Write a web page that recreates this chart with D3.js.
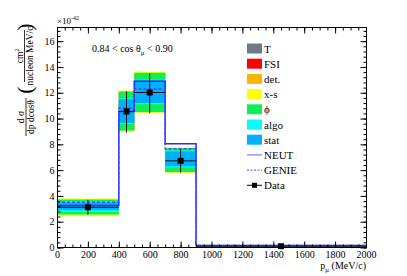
<!DOCTYPE html>
<meta charset="utf-8">
<head>
    <title>Cross section vs p_mu</title>
    <script type="text/javascript" src="https://cdn.jsdelivr.net/npm/d3@7/dist/d3.min.js"></script>
    <style>
        html, body { margin: 0; padding: 0; background: white; }
    </style>
</head>
<body>
<div id="chart"></div>
<script>
    var serif = "'Liberation Serif', 'Times New Roman', Times, serif";

    // bin edges in p_mu (MeV/c)
    var binEdges = [0, 400, 500, 700, 900, 2000];
    // data points (x1e-42)
    var dataX = [200, 450, 600, 800, 1450];
    var dataVal = [3.12, 10.55, 12.02, 6.72, 0.1];
    var dataLo = [2.55, 8.9, 10.4, 5.8, 0.06];
    var dataHi = [3.7, 12.1, 13.5, 7.62, 0.14];
    // MC predictions
    var neut = [3.25, 10.55, 12.9, 8.05, 0.15];
    var genie = [3.5, 10.8, 12.3, 7.65, 0.15];
    // systematic bands, drawn in legend order (later ones on top)
    var bandNames = ["T", "FSI", "det.", "x-s", "\u03d5", "algo", "stat"];
    var bandColors = ["#6e7b87", "#ff0000", "#ffb400", "#ffff00", "#11ee55", "#00ffff", "#00b0ff"];
    var bandLo = [
        [2.6, 9.1, 10.55, 5.9, 0.08],
        [2.6, 9.1, 10.55, 5.9, 0.08],
        [2.6, 9.1, 10.55, 5.9, 0.08],
        [2.43, 8.97, 10.45, 5.8, 0.07],
        [2.56, 9.07, 10.5, 5.85, 0.08],
        [2.76, 9.6, 11.12, 6.22, 0.09],
        [2.9, 9.67, 11.2, 6.3, 0.09]
    ];
    var bandHi = [
        [3.7, 12.05, 13.5, 7.65, 0.13],
        [3.7, 12.05, 13.5, 7.65, 0.13],
        [3.7, 12.05, 13.5, 7.65, 0.13],
        [3.8, 12.17, 13.62, 7.76, 0.14],
        [3.72, 12.1, 13.55, 7.7, 0.13],
        [3.58, 11.58, 13.02, 7.52, 0.12],
        [3.5, 11.5, 12.95, 7.45, 0.12]
    ];
    var yTicks = [0, 2, 4, 6, 8, 10, 12, 14, 16];
    var xTicks = [0, 200, 400, 600, 800, 1000, 1200, 1400, 1600, 1800, 2000];

    var width = 407, height = 276;
    var margin = {top: 27, right: 41, bottom: 29, left: 57};

    var svg = d3.select("#chart").append("svg")
        .attr("width", width)
        .attr("height", height)
        .attr("font-family", serif);

    var x = d3.scaleLinear().domain([0, 2000]).range([margin.left, width - margin.right]);
    var y = d3.scaleLinear().domain([0, 17.1]).range([height - margin.bottom + 0.5, margin.top]);

    var plot = svg.append("g");

    // bands
    bandNames.forEach(function(name, k) {
        plot.append("g").selectAll("rect")
            .data(d3.range(5))
            .enter().append("rect")
            .attr("x", function(i) { return x(binEdges[i]); })
            .attr("width", function(i) { return x(binEdges[i + 1]) - x(binEdges[i]); })
            .attr("y", function(i) { return y(bandHi[k][i]); })
            .attr("height", function(i) { return y(bandLo[k][i]) - y(bandHi[k][i]); })
            .attr("fill", bandColors[k]);
    });

    // step lines for MC
    function stepPoints(vals) {
        var pts = [];
        vals.forEach(function(v, i) {
            pts.push([x(binEdges[i]), y(v)]);
            pts.push([x(binEdges[i + 1]), y(v)]);
        });
        return pts;
    }
    plot.append("path")
        .attr("d", d3.line()(stepPoints(neut)))
        .attr("fill", "none")
        .attr("stroke", "#2b2bf0")
        .attr("stroke-width", 1.5);
    plot.append("path")
        .attr("d", d3.line()(stepPoints(genie)))
        .attr("fill", "none")
        .attr("stroke", "#4a4aff")
        .attr("stroke-width", 1.5)
        .attr("stroke-dasharray", "3,2");

    // data: x error (bin width), y error, marker
    var pts = plot.append("g");
    d3.range(5).forEach(function(i) {
        pts.append("line")
            .attr("x1", x(binEdges[i])).attr("x2", x(binEdges[i + 1]))
            .attr("y1", y(dataVal[i])).attr("y2", y(dataVal[i]))
            .attr("stroke", "#111").attr("stroke-width", 1);
        pts.append("line")
            .attr("x1", x(dataX[i])).attr("x2", x(dataX[i]))
            .attr("y1", y(dataLo[i])).attr("y2", y(dataHi[i]))
            .attr("stroke", "#111").attr("stroke-width", 1);
        pts.append("rect")
            .attr("x", x(dataX[i]) - 3).attr("y", y(dataVal[i]) - 3)
            .attr("width", 6).attr("height", 6)
            .attr("fill", "black");
    });

    // axes, ticks pointing inward on all four sides
    var x0 = margin.left, x1 = width - margin.right;
    var y0 = height - margin.bottom, y1 = margin.top;
    var noDomain = function(g) { g.select(".domain").remove(); g.attr("font-family", serif); };
    var minorY = d3.range(0, 17.1, 0.4);

    svg.append("g").attr("transform", "translate(0," + (y0 + 0.5) + ")")
        .call(d3.axisBottom(x).tickValues(xTicks).tickFormat(d3.format("d")).tickSizeInner(-6).tickSizeOuter(0).tickPadding(3))
        .call(noDomain)
        .selectAll("text").attr("font-size", 10);
    svg.append("g").attr("transform", "translate(0," + (y0 + 0.5) + ")")
        .call(d3.axisBottom(x).ticks(50).tickSizeInner(-3).tickSizeOuter(0).tickFormat(""))
        .call(noDomain);
    svg.append("g").attr("transform", "translate(0," + (y1 + 0.5) + ")")
        .call(d3.axisTop(x).tickValues(xTicks).tickSizeInner(-6).tickSizeOuter(0).tickFormat(""))
        .call(noDomain);
    svg.append("g").attr("transform", "translate(0," + (y1 + 0.5) + ")")
        .call(d3.axisTop(x).ticks(50).tickSizeInner(-3).tickSizeOuter(0).tickFormat(""))
        .call(noDomain);

    svg.append("g").attr("transform", "translate(" + (x0 + 0.5) + ",0)")
        .call(d3.axisLeft(y).tickValues(yTicks).tickSizeInner(-6).tickSizeOuter(0).tickPadding(3))
        .call(noDomain)
        .selectAll("text").attr("font-size", 10);
    svg.append("g").attr("transform", "translate(" + (x0 + 0.5) + ",0)")
        .call(d3.axisLeft(y).tickValues(minorY).tickSizeInner(-3).tickSizeOuter(0).tickFormat(""))
        .call(noDomain);
    svg.append("g").attr("transform", "translate(" + (x1 + 0.5) + ",0)")
        .call(d3.axisRight(y).tickValues(yTicks).tickSizeInner(-6).tickSizeOuter(0).tickFormat(""))
        .call(noDomain);
    svg.append("g").attr("transform", "translate(" + (x1 + 0.5) + ",0)")
        .call(d3.axisRight(y).tickValues(minorY).tickSizeInner(-3).tickSizeOuter(0).tickFormat(""))
        .call(noDomain);

    // frame
    svg.append("rect")
        .attr("x", x0 + 0.5).attr("y", y1 + 0.5)
        .attr("width", x1 - x0).attr("height", y0 - y1)
        .attr("fill", "none").attr("stroke", "black").attr("stroke-width", 1);

    // exponent label
    var ex = svg.append("text").attr("x", x0).attr("y", 24).attr("font-size", 9);
    ex.append("tspan").text("\u00d710");
    ex.append("tspan").attr("font-size", 6).attr("dy", -4).text("-42");

    // x axis title
    var xt = svg.append("text").attr("x", x1).attr("y", 269).attr("text-anchor", "end").attr("font-size", 10);
    xt.append("tspan").text("p");
    xt.append("tspan").attr("font-size", 7).attr("dy", 3).text("\u03bc");
    xt.append("tspan").attr("dy", -3).text(" (MeV/c)");

    // cos theta label
    var ct = svg.append("text").attr("x", 92).attr("y", 52).attr("font-size", 10);
    ct.append("tspan").text("0.84 < cos \u03b8");
    ct.append("tspan").attr("font-size", 7).attr("dy", 3).text("\u03bc");
    ct.append("tspan").attr("dy", -3).text(" < 0.90");

    // y axis title, rotated
    var yt = svg.append("g").attr("transform", "rotate(-90)");
    function frac(g, uc, w, vLine, num, den, sup) {
        var n = g.append("text").attr("x", uc).attr("y", vLine - 2).attr("text-anchor", "middle").attr("font-size", 9.5);
        n.append("tspan").text(num);
        if (sup) n.append("tspan").attr("font-size", 6).attr("dy", -4).text(sup);
        g.append("line").attr("x1", uc - w / 2).attr("x2", uc + w / 2)
            .attr("y1", vLine).attr("y2", vLine).attr("stroke", "black").attr("stroke-width", 0.8);
        g.append("text").attr("x", uc).attr("y", vLine + 8).attr("text-anchor", "middle").attr("font-size", 9.5).text(den);
    }
    frac(yt, -117, 38, 26, "d \u03c3", "dp dcos\u03b8");
    yt.append("text").attr("x", -90).attr("y", 32).attr("text-anchor", "middle").attr("font-size", 22).text("(");
    frac(yt, -56, 52, 24.5, "cm", "nucleon MeV/c", "2");
    yt.append("text").attr("x", -27).attr("y", 32).attr("text-anchor", "middle").attr("font-size", 22).text(")");

    // legend
    var legendTypes = ["band", "band", "band", "band", "band", "band", "band", "neut", "genie", "data"];
    var legendLabels = bandNames.concat(["NEUT", "GENIE", "Data"]);
    var leg = svg.append("g");
    legendLabels.forEach(function(lab, i) {
        var cy = 48.5 + i * 15.2;
        var t = legendTypes[i];
        if (t === "band") {
            leg.append("rect").attr("x", 247).attr("y", cy - 5).attr("width", 15).attr("height", 10)
                .attr("fill", bandColors[i]);
        } else if (t === "neut") {
            leg.append("line").attr("x1", 247).attr("x2", 262).attr("y1", cy).attr("y2", cy)
                .attr("stroke", "#7b7bff").attr("stroke-width", 1.2);
        } else if (t === "genie") {
            leg.append("line").attr("x1", 247).attr("x2", 262).attr("y1", cy).attr("y2", cy)
                .attr("stroke", "#4a4aff").attr("stroke-width", 1).attr("stroke-dasharray", "2,1.5");
        } else {
            leg.append("line").attr("x1", 247).attr("x2", 262).attr("y1", cy).attr("y2", cy)
                .attr("stroke", "black").attr("stroke-width", 1);
            leg.append("rect").attr("x", 252).attr("y", cy - 2.5).attr("width", 5).attr("height", 5).attr("fill", "black");
        }
        leg.append("text").attr("x", 264).attr("y", cy + 4).attr("font-size", 11).text(lab);
    });
</script>
</body>
</html>
